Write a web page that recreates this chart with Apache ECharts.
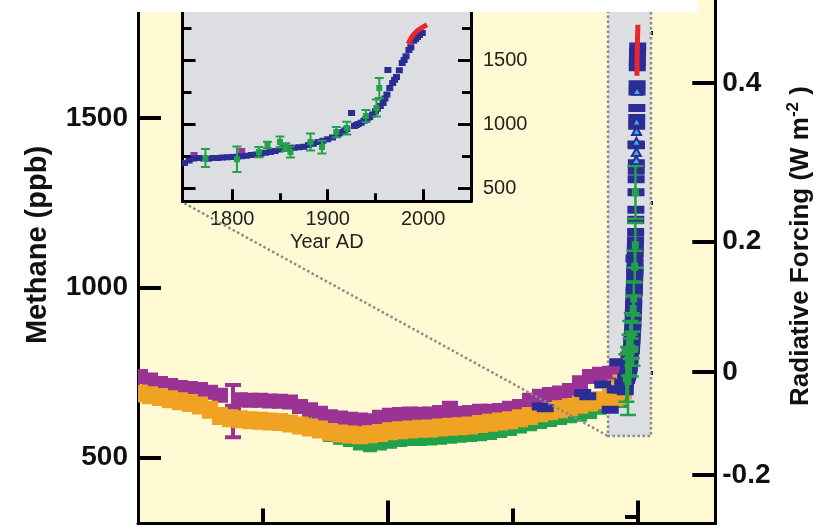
<!DOCTYPE html>
<html>
<head>
<meta charset="utf-8">
<script src="https://cdn.jsdelivr.net/npm/echarts@6/dist/echarts.min.js"></script>
<style>
  html, body { margin: 0; padding: 0; background: #ffffff; }
  #chart { width: 822px; height: 526px; }
</style>
</head>
<body>
<div id="chart"></div>
<script>
// ---- Holocene ice-core methane (time in years before 2005) ----
const purpleYearsBP = [9960, 9760, 9560, 9360, 9160, 8960, 8760, 8560, 8360, 8100,
  7960, 7760, 7560, 7360, 7160, 6960, 6760, 6560, 6360, 6160,
  5960, 5760, 5560, 5360, 5160, 4960, 4760, 4560, 4360, 4160,
  3960, 3760, 3560, 3360, 3160, 2960, 2760, 2560, 2360, 2160,
  1960, 1760, 1560, 1360, 1160, 960, 760, 560, 245, 195];
const purplePpb = [738, 728, 718, 712, 706, 703, 700, 692, 683, 636,
  670, 668, 668, 666, 665, 663, 650, 640, 630, 620,
  616, 612, 610, 608, 618, 624, 626, 628, 627, 628,
  632, 636, 630, 632, 636, 636, 638, 645, 650, 668,
  678, 685, 690, 697, 720, 738, 745, 748, 758, 790];
const purpleErr = [8, 8, 8, 8, 8, 8, 8, 8, 8, 77,
  8, 8, 8, 8, 8, 8, 8, 8, 8, 8,
  8, 8, 8, 8, 8, 8, 8, 8, 8, 8,
  8, 25, 8, 8, 8, 8, 8, 8, 8, 8,
  18, 8, 8, 8, 8, 8, 8, 8, 15, 15];

const orangeYearsBP = [9960, 9760, 9560, 9360, 9160, 8960, 8760, 8560, 8360, 8160,
  7960, 7760, 7560, 7360, 7160, 6960, 6760, 6560, 6360, 6160,
  5960, 5760, 5560, 5360, 5160, 4960, 4760, 4560, 4360, 4160,
  3960, 3760, 3560, 3360, 3160, 2960, 2760, 2560, 2360, 2160,
  1960, 1760, 1560, 1360, 1160, 960, 760, 560, 450, 350, 280];
const orangePpb = [688, 683, 678, 671, 665, 660, 653, 640, 622, 615,
  612, 609, 608, 606, 604, 600, 594, 588, 582, 575,
  570, 567, 565, 568, 572, 577, 580, 582, 584, 585,
  588, 590, 592, 594, 598, 602, 606, 609, 615, 622,
  630, 636, 642, 648, 655, 662, 668, 675, 690, 700, 705];
const orangeErr = [8, 8, 8, 8, 8, 8, 8, 8, 8, 8,
  8, 8, 8, 8, 8, 8, 8, 8, 8, 8,
  8, 8, 8, 8, 8, 8, 8, 8, 8, 8,
  8, 8, 8, 8, 8, 8, 8, 8, 8, 8,
  8, 8, 8, 8, 8, 8, 8, 8, 35, 40, 30];

const greenYearsBP = [6760, 6560, 6360, 6160, 5960, 5760, 5560, 5360, 5160, 4960,
  4760, 4560, 4360, 4160, 3960, 3760, 3560, 3360, 3160, 2960,
  2760, 2560, 2360, 2160, 1960, 1760, 1560, 1360, 1160, 960,
  760, 560, 360];
const greenPpb = [590, 600, 575, 560, 552, 545, 535, 530, 535, 540,
  545, 548, 548, 550, 552, 555, 558, 560, 562, 566,
  572, 578, 585, 592, 598, 604, 610, 615, 620, 628,
  640, 648, 660];
const greenErr = [8, 25, 8, 8, 8, 8, 8, 8, 8, 8,
  8, 8, 8, 8, 8, 8, 8, 8, 8, 8,
  8, 8, 8, 8, 8, 8, 8, 8, 8, 8,
  8, 8, 8];

// ---- Last two millennia (time in years AD) ----
const lawDomeYears = [50, 150, 900, 1000, 1300, 1450, 1550, 1600, 1650, 1700,
  1750, 1755, 1760, 1765, 1770, 1775, 1780, 1785, 1790, 1795,
  1800, 1805, 1810, 1815, 1820, 1825, 1830, 1835, 1840, 1845,
  1850, 1855, 1860, 1865, 1870, 1875, 1880, 1885, 1890, 1895,
  1900, 1905, 1910, 1912, 1916, 1918, 1920, 1925, 1928, 1930,
  1932, 1935, 1938, 1940, 1942, 1944, 1947, 1950, 1952, 1955,
  1958, 1960, 1962, 1963, 1965, 1968, 1970, 1972, 1975, 1978,
  1980, 1982, 1985, 1987, 1990, 1992, 1994, 1996, 1999];
const lawDomePpb = [650, 645, 690, 680, 715, 640, 700, 780, 700, 720,
  695, 715, 730, 735, 730, 728, 734, 735, 738, 740,
  742, 745, 748, 752, 758, 762, 768, 775, 781, 790,
  800, 812, 815, 815, 818, 822, 835, 845, 859, 870,
  880, 895, 915, 925, 937, 950, 960, 1086, 985, 992,
  1000, 1010, 1025, 1040, 1048, 1055, 1075, 1100, 1120, 1140,
  1164, 1200, 1230, 1422, 1281, 1320, 1345, 1367, 1420, 1477,
  1500, 1530, 1578, 1600, 1650, 1665, 1680, 1695, 1711];

const firnYears = [1772, 1805, 1828, 1837, 1850, 1856, 1861, 1882, 1894, 1909, 1920, 1940, 1951, 1954];
const firnPpb = [734, 725, 781, 836, 859, 820, 781, 859, 820, 937, 968, 1062, 1125, 1281];
const firnErr = [70, 100, 40, 25, 43, 30, 43, 66, 50, 40, 50, 47, 66, 78];

const stationYears = [1970, 1972, 1974, 1976, 1978, 1986];
const stationPpb = [1376, 1400, 1430, 1462, 1490, 1580];

const atmosYears = [1984, 1986, 1988, 1990, 1992, 1994, 1996, 1998, 2000, 2002, 2004];
const atmosPpb = [1625, 1650, 1680, 1700, 1715, 1730, 1740, 1750, 1760, 1768, 1775];

// ---- Axes ----
const REF_YEAR = 2005;
const mainYearRange = [-1546, 10000];
const mainPpbRange = [305, 1848];
const insetYearRange = [1748, 2050];
const insetPpbRange = [396, 1969];

const mainYearMajor = [0, 5000];
const mainYearMinor = [2500, 7500];
const mainPpbMajor = [500, 1000, 1500];
const mainPpbMinor = [750, 1250, 1750];
const forcingLabels = ['-0.2', '0', '0.2', '0.4'];
const forcingMajorPpb = [448, 751, 1136, 1604];
const forcingMinorPpb = [325, 590, 934, 1362];
const insetYearMajor = [1800, 1900, 2000];
const insetYearMinor = [1850, 1950];
const insetPpbMajor = [500, 1000, 1500];
const insetPpbMinor = [750, 1250, 1750];

// region of the main panel enlarged in the inset
const zoomBoxBP = [600, -260];
const zoomBoxPpb = [563, 1848];

const C = {
  purple: '#9A3393', orange: '#F0A322', green: '#22A14A', navy: '#2B2D94',
  red: '#E8262C', cyan: '#39B4E8', cream: '#FFFAD4', gray: '#DCDEE1', dots: '#8A8A8A'
};
const FONT = '"Liberation Sans", Arial, sans-serif';
const plain = v => String(Math.round(v));

const zip3 = (xs, ys, es, fx) => xs.map((x, i) => [fx ? fx(x) : x, ys[i], es ? es[i] : 0]);
const toBP = ad => REF_YEAR - ad;
const toAD = bp => REF_YEAR - bp;

// marker with optional vertical error bar
function markerSeries(data, color, o, xi, yi) {
  return {
    type: 'custom', xAxisIndex: xi, yAxisIndex: yi, clip: true, z: o.z || 2,
    data, encode: { x: 0, y: 1 }, silent: true,
    renderItem(params, api) {
      const x = api.value(0), y = api.value(1), e = api.value(2) || 0;
      const p = api.coord([x, y]);
      const kids = [];
      if (e > 0 && o.cap) {
        const t = api.coord([x, y + e])[1];
        const b = api.coord([x, y - e])[1];
        const h = o.cap / 2;
        kids.push({ type: 'line', shape: { x1: p[0], y1: t, x2: p[0], y2: b }, style: { stroke: color, lineWidth: o.lw } });
        kids.push({ type: 'line', shape: { x1: p[0] - h, y1: t, x2: p[0] + h, y2: t }, style: { stroke: color, lineWidth: o.lw } });
        kids.push({ type: 'line', shape: { x1: p[0] - h, y1: b, x2: p[0] + h, y2: b }, style: { stroke: color, lineWidth: o.lw } });
      }
      kids.push({ type: 'rect', shape: { x: p[0] - o.w / 2, y: p[1] - o.h / 2, width: o.w, height: o.h }, style: { fill: color } });
      return { type: 'group', children: kids };
    }
  };
}

function axis(o) {
  return Object.assign({
    type: 'value', splitLine: { show: false }, axisLine: { show: false },
    axisLabel: { show: false }, axisTick: { show: false }
  }, o);
}
const blackLine = w => ({ show: true, onZero: false, lineStyle: { color: '#000', width: w } });
const ticks = (vals, len, w) => ({ show: true, inside: true, length: len, customValues: vals, lineStyle: { color: '#000', width: w } });

const mainX = { gridIndex: 0, min: mainYearRange[0], max: mainYearRange[1], inverse: true };
const mainY = { gridIndex: 0, min: mainPpbRange[0], max: mainPpbRange[1] };
const insX = { gridIndex: 1, min: insetYearRange[0], max: insetYearRange[1] };
const insY = { gridIndex: 1, min: insetPpbRange[0], max: insetPpbRange[1] };

const option = {
  animation: false,
  backgroundColor: '#ffffff',
  grid: [
    { left: 138, right: 106.7, top: 0, bottom: 2.5, show: true, backgroundColor: C.cream, borderWidth: 0 },
    { left: 182.5, right: 351, top: 0, bottom: 324.7, show: true, backgroundColor: C.gray, borderWidth: 0 }
  ],
  xAxis: [
    axis(Object.assign({}, mainX, { position: 'bottom', axisLine: blackLine(3), axisTick: ticks(mainYearMajor, 23, 4) })),
    axis(Object.assign({}, mainX, { position: 'bottom', axisTick: ticks(mainYearMinor, 15, 4) })),
    axis(Object.assign({}, insX, {
      position: 'bottom', axisLine: blackLine(3), axisTick: ticks(insetYearMajor, 12, 3),
      axisLabel: { show: true, customValues: insetYearMajor, formatter: plain, margin: 8, fontSize: 20, color: '#222', fontFamily: FONT },
      name: 'Year AD', nameLocation: 'middle', nameGap: 31,
      nameTextStyle: { fontSize: 20, color: '#222', fontFamily: FONT }
    })),
    axis(Object.assign({}, insX, { position: 'bottom', axisTick: ticks(insetYearMinor, 8, 3) }))
  ],
  yAxis: [
    axis(Object.assign({}, mainY, {
      position: 'left', axisLine: blackLine(3), axisTick: ticks(mainPpbMajor, 23, 4),
      axisLabel: { show: true, customValues: mainPpbMajor, formatter: plain, margin: 10, fontSize: 28, fontWeight: 'bold', color: '#111', fontFamily: FONT }
    })),
    axis(Object.assign({}, mainY, { position: 'left', axisTick: ticks(mainPpbMinor, 15, 4) })),
    axis(Object.assign({}, mainY, {
      position: 'right', axisLine: blackLine(3), axisTick: ticks(forcingMajorPpb, 23, 4),
      axisLabel: {
        show: true, customValues: forcingMajorPpb, margin: 7, fontSize: 28, fontWeight: 'bold', color: '#111', fontFamily: FONT,
        formatter: v => {
          let best = 0;
          forcingMajorPpb.forEach((p, i) => { if (Math.abs(p - v) < Math.abs(forcingMajorPpb[best] - v)) best = i; });
          return forcingLabels[best];
        }
      }
    })),
    axis(Object.assign({}, mainY, { position: 'right', axisTick: ticks(forcingMinorPpb, 13, 4) })),
    axis(Object.assign({}, insY, { position: 'left', axisLine: blackLine(3), axisTick: ticks(insetPpbMajor, 13, 3) })),
    axis(Object.assign({}, insY, { position: 'left', axisTick: ticks(insetPpbMinor, 9, 3) })),
    axis(Object.assign({}, insY, {
      position: 'right', axisLine: blackLine(3), axisTick: ticks(insetPpbMajor, 13, 3),
      axisLabel: { show: true, customValues: insetPpbMajor, formatter: plain, margin: 12, fontSize: 20, color: '#222', fontFamily: FONT }
    })),
    axis(Object.assign({}, insY, { position: 'right', axisTick: ticks(insetPpbMinor, 9, 3) }))
  ],
  series: [
    // shaded box marking the period shown in the inset
    {
      type: 'custom', xAxisIndex: 0, yAxisIndex: 0, z: 1, clip: true, silent: true,
      data: [[zoomBoxBP[0], zoomBoxPpb[0], zoomBoxBP[1], zoomBoxPpb[1]]],
      encode: { x: [0, 2], y: [1, 3] },
      renderItem(params, api) {
        const a = api.coord([api.value(0), api.value(1)]);
        const b = api.coord([api.value(2), api.value(3)]);
        return {
          type: 'rect',
          shape: { x: Math.min(a[0], b[0]), y: Math.min(a[1], b[1]), width: Math.abs(b[0] - a[0]), height: Math.abs(b[1] - a[1]) },
          style: { fill: C.gray, stroke: C.dots, lineWidth: 2.5, lineDash: [2.5, 2.5] }
        };
      }
    },
    // main panel
    markerSeries(zip3(greenYearsBP, greenPpb, greenErr), C.green, { w: 14, h: 10, cap: 14, lw: 3 }, 0, 0),
    markerSeries(zip3(purpleYearsBP, purplePpb, purpleErr), C.purple, { w: 16, h: 15, cap: 16, lw: 4 }, 0, 0),
    markerSeries(zip3(orangeYearsBP, orangePpb, orangeErr), C.orange, { w: 16, h: 18, cap: 16, lw: 3 }, 0, 0),
    markerSeries(zip3(lawDomeYears, lawDomePpb, null, toBP), C.navy, { w: 17, h: 8 }, 0, 0),
    markerSeries(zip3(firnYears, firnPpb, firnErr, toBP), C.green, { w: 7, h: 8, cap: 16, lw: 2.5 }, 0, 0),
    {
      type: 'scatter', xAxisIndex: 0, yAxisIndex: 0, symbol: 'triangle', symbolSize: [9, 8], silent: true,
      data: stationYears.map((y, i) => [toBP(y), stationPpb[i]]),
      itemStyle: { color: C.cyan, borderColor: C.navy, borderWidth: 2, opacity: 1 }
    },
    {
      type: 'line', xAxisIndex: 0, yAxisIndex: 0, showSymbol: false, silent: true,
      data: atmosYears.map((y, i) => [toBP(y), atmosPpb[i]]),
      lineStyle: { color: C.red, width: 5 }
    },
    // inset panel
    markerSeries(zip3(purpleYearsBP, purplePpb, null, toAD), C.purple, { w: 7, h: 6 }, 2, 4),
    markerSeries(zip3(lawDomeYears, lawDomePpb), C.navy, { w: 7, h: 6 }, 2, 4),
    markerSeries(zip3(firnYears, firnPpb, firnErr), C.green, { w: 6, h: 6, cap: 9, lw: 2 }, 2, 4),
    {
      type: 'line', xAxisIndex: 2, yAxisIndex: 4, showSymbol: false, silent: true,
      data: atmosYears.map((y, i) => [y, atmosPpb[i]]),
      lineStyle: { color: C.red, width: 5 }
    }
  ]
};

const chart = echarts.init(document.getElementById('chart'), null, { renderer: 'canvas' });
chart.setOption(option);

// dotted connector from the inset corner to the shaded box
const from = chart.convertToPixel({ xAxisIndex: 2, yAxisIndex: 4 }, [insetYearRange[0], insetPpbRange[0]]);
const to = chart.convertToPixel({ xAxisIndex: 0, yAxisIndex: 0 }, [zoomBoxBP[0], zoomBoxPpb[0]]);

chart.setOption({
  graphic: [
    {
      type: 'line', z: 50, silent: true,
      shape: { x1: from[0] + 2, y1: from[1] + 2, x2: to[0], y2: to[1] },
      style: { stroke: C.dots, lineWidth: 2.5, lineDash: [2.5, 2.5] }
    },
    { type: 'rect', z: 200, silent: true, shape: { x: 0, y: 0, width: 698, height: 12 }, style: { fill: '#ffffff' } },
    {
      type: 'text', z: 200, silent: true, x: 38, y: 245, rotation: Math.PI / 2,
      style: { text: 'Methane (ppb)', fontSize: 29, fontWeight: 'bold', fontFamily: FONT, fill: '#111', textAlign: 'center', textVerticalAlign: 'middle' }
    },
    {
      type: 'text', z: 200, silent: true, x: 801, y: 246, rotation: Math.PI / 2,
      style: {
        text: 'Radiative Forcing (W m{s|-2} )', fontSize: 26, fontWeight: 'bold', fontFamily: FONT, fill: '#111',
        textAlign: 'center', textVerticalAlign: 'middle',
        rich: { s: { fontSize: 17, fontWeight: 'bold', fontFamily: FONT, fill: '#111', padding: [0, 0, 16, 0] } }
      }
    }
  ]
});
</script>
</body>
</html>
